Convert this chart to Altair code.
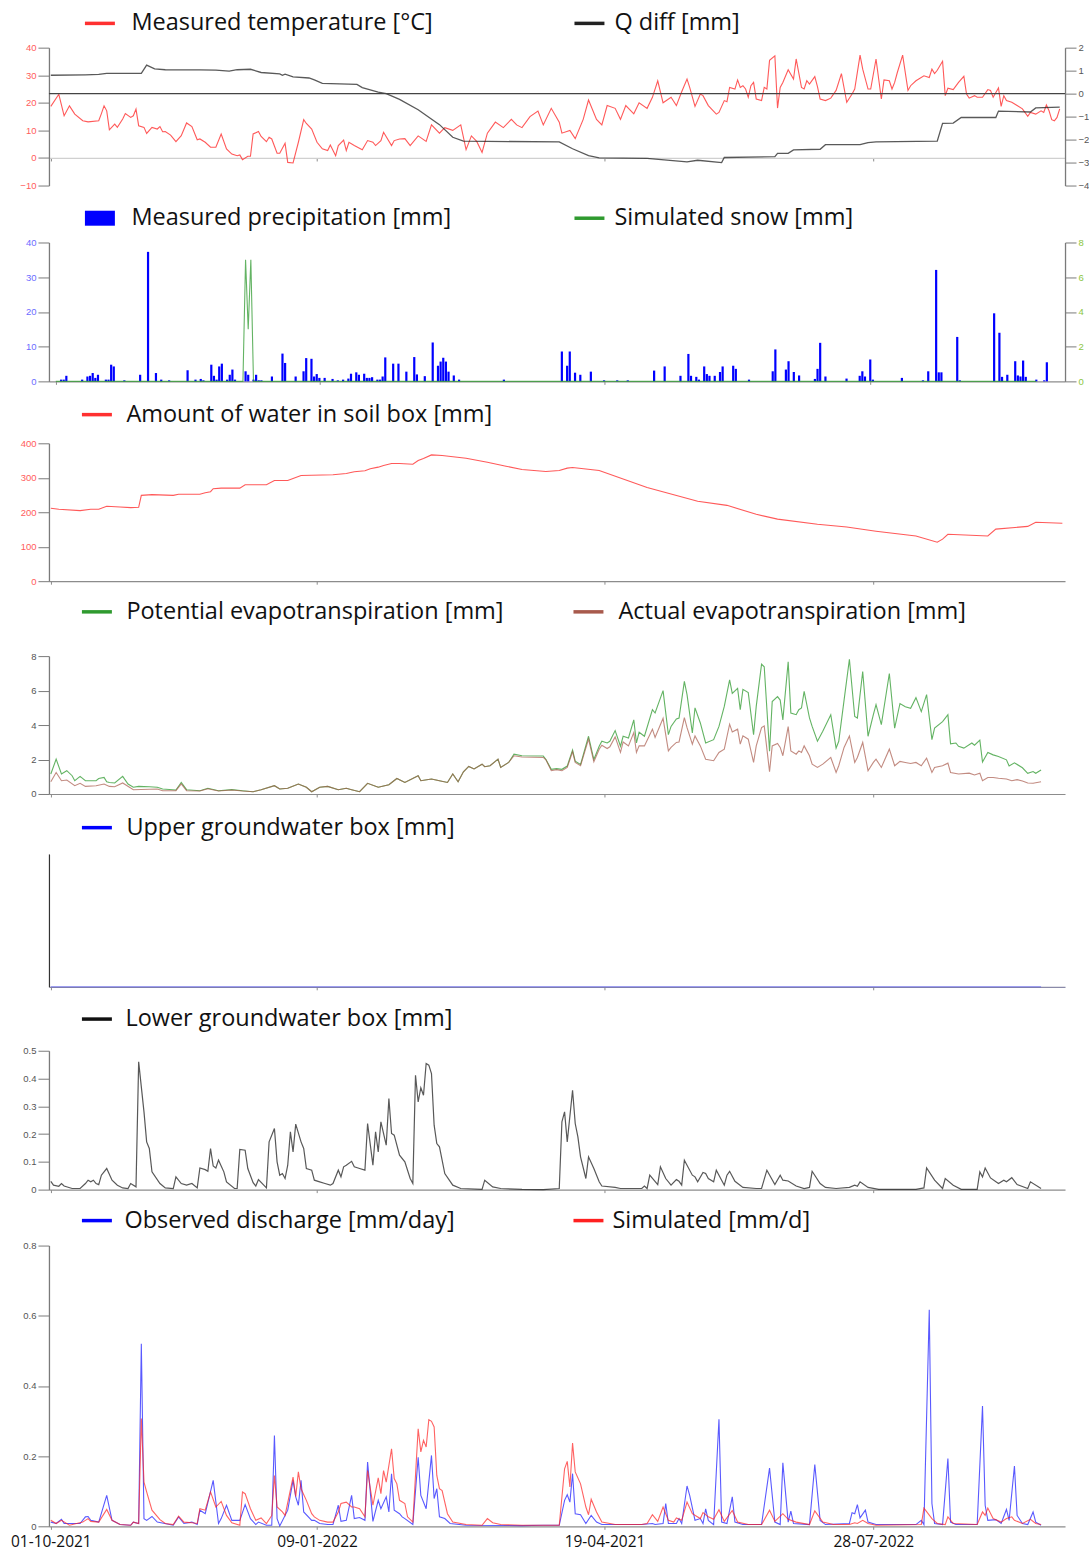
import altair as alt
import pandas as pd

# ---------------------------------------------------------------- data
# x is the day index counted from 01-10-2021
tick_days = [0, 100, 208, 309]
tick_labels = ["01-10-2021", "09-01-2022", "19-04-2021", "28-07-2022"]

temp_days = [0, 3, 5, 7, 9, 12, 14, 18, 19, 20, 21, 22, 24, 25, 27, 28, 30, 31, 32, 33, 35, 36, 38, 40, 41, 42, 43, 45, 47, 49,
             51, 53, 55, 56, 58, 60, 62, 64, 66, 68, 70, 71, 72, 74, 75, 76, 78, 79, 81, 82, 83, 85, 86, 88, 89, 91, 93, 95, 96, 98,
             100, 102, 104, 105, 107, 108, 110, 111, 112, 114, 117, 119, 121, 122, 124, 125, 128, 129, 131,
             133, 135, 138, 141, 143, 146, 148, 151, 154, 156, 158, 160, 162, 164, 167, 170, 173, 175, 177, 180, 183, 185, 188,
             191, 192, 195, 197, 200, 202, 205, 207, 209, 212, 214, 216, 219, 221, 224, 226, 228, 230, 233, 235, 237,
             239, 240, 242, 244, 245, 247, 250, 251, 253, 254, 255, 257, 258, 259, 260, 261, 262, 263, 264, 265, 267, 268, 269,
             270, 272, 273, 274, 275, 277, 279, 280, 282, 283, 284, 285, 287, 288, 289, 291, 293, 295, 297, 299, 301, 302, 304,
             305, 307, 308, 310, 312, 313, 315, 316, 317, 318, 320, 322, 323, 325, 328, 330, 331, 332, 333, 335, 336, 337, 339,
             341, 343, 344, 345, 347, 348, 350, 352, 353, 354, 356, 357, 358, 359, 361, 363, 365, 367, 368, 370, 372, 373, 374,
             375, 376, 377, 378, 379]
temp_vals = [18.7, 23.1, 15.3, 18.9, 15.9, 13.5, 13.1, 13.5, 16.1, 18.9, 17.1, 10.2, 12.3, 11.1, 14.1, 16.1, 14.7, 15.3, 17.7, 11.7,
             11.1, 8.9, 11.1, 10.5, 11.4, 9.5, 9.6, 8.3, 5.9, 8.1, 12.7, 11.4, 6.6, 6.9, 5.7, 3.9, 3.9, 8.7, 3.3, 1.4, 0.8, 1.1,
             -0.6, 0.6, 0.6, 8.7, 9.6, 7.8, 5.9, 7.5, 6.9, 1.7, 1.7, 5.3, -1.6, -1.8, 5.7, 13.9, 12.5, 10.5, 5.7, 3.3, 2.7, 4.7,
             0.8, 4.5, 6.5, 2.7, 5.7, 4.5, 3.0, 6.3, 5.7, 4.5, 6.3, 9.3, 4.5, 6.3, 6.9,
             7, 4.5, 8, 6, 12, 9, 11, 10, 12, 3, 8, 6, 2, 9, 13, 11, 14, 12, 11, 15, 17, 12, 18,
             13, 9, 10, 7, 14, 21, 14, 12, 19, 18, 14, 19, 16, 20, 18, 22, 28, 20, 22, 19, 24,
             28.6, 25.6, 18.7, 23.2, 22.6, 19, 15.9, 16.5, 20.8, 20.4, 25.6, 25, 28.3, 25.6, 26.2, 25, 22, 26.2, 27.4, 21.4,
             20.8, 25.6, 25, 35.4, 37, 18.1, 25.6, 27.4, 32, 28.6, 35.9, 25.6, 25, 28, 26.8, 29.5, 25.9, 21.4, 20.8, 21.7, 24.5,
             30.6, 20.2, 23.2, 25, 37.3, 32.2, 25, 25, 35.9, 21.4, 28.3, 28, 25, 27.4, 31, 37.3, 24.5, 26.2, 28, 29.8, 29.2,
             32.2, 30.6, 31.8, 35.1, 22.6, 25.3, 24.8, 27.4, 29.6, 23.2, 21.7, 22.6, 22, 22, 24.8, 24.5, 22, 25.4, 18.7, 22.6,
             20.8, 20.2, 19, 17.8, 15.1, 16.5, 15.9, 17.1, 16.5, 19.2, 17.1, 13.9, 13.5, 14.7, 17.8]

qdiff_days = [0, 13, 18, 21, 34, 36, 39, 43, 56, 62, 67, 70, 75, 79, 86, 87, 88, 91, 97, 99, 102, 115, 117, 123, 126, 131,
              138, 146, 151, 155, 191, 196, 202, 206, 224, 239, 243, 252, 253, 272, 273, 277, 279, 289, 291, 304, 307, 310,
              333, 335, 339, 342, 355, 356, 368, 370, 379]
qdiff_vals = [0.80, 0.82, 0.84, 0.88, 0.88, 1.24, 1.08, 1.04, 1.03, 1.02, 0.98, 1.04, 1.06, 0.92, 0.86, 0.80, 0.85, 0.73, 0.68,
              0.60, 0.45, 0.40, 0.26, 0.07, 0.0, -0.25, -0.7, -1.35, -1.9, -2.07, -2.1, -2.4, -2.7, -2.8, -2.82, -2.97, -2.9,
              -3.0, -2.78, -2.74, -2.6, -2.6, -2.45, -2.42, -2.22, -2.22, -2.13, -2.1, -2.07, -1.29, -1.28, -1.04, -1.04,
              -0.76, -0.8, -0.62, -0.59]

precip_days = [2, 3, 4, 10, 12, 13, 14, 15, 16, 19, 20, 21, 22, 26, 32, 35, 38, 40, 43, 50, 53, 55, 56, 59, 60, 61, 62, 63, 65,
               66, 67, 68, 72, 73, 75, 76, 77, 78, 82, 86, 87, 91, 94, 95, 97, 98, 99, 100, 102, 105, 107, 109, 111, 112, 114,
               115, 117, 118, 119, 120, 122, 123, 124, 125, 128, 130,
               133, 136, 137, 140, 143, 145, 146, 147, 148, 149, 151, 153, 170, 192, 194, 195, 197, 199, 203, 208, 213, 217,
               227, 231, 237,
               240, 241, 243, 244, 246, 247, 248, 250, 252, 253, 257, 258, 263, 272, 273, 277, 278, 280, 282, 288, 289, 290,
               292, 300, 305, 306, 307, 309, 310, 321, 329, 331, 334, 335, 336, 342, 343, 356, 358, 359, 361, 364, 365, 366,
               367, 368, 372, 375, 376]
precip_vals = [0.5, 0.5, 1.6, 0.5, 1.4, 1.6, 2.4, 1.0, 1.9, 0.5, 0.5, 4.8, 4.3, 0.3, 1.9, 37.3, 2.4, 0.5, 0.3, 3.2, 0.5, 0.7,
               0.3, 4.8, 1.6, 0.5, 4.3, 5.1, 0.5, 1.9, 3.4, 0.5, 2.9, 1.9, 0.5, 1.9, 0.3, 0.3, 1.4, 8.0, 5.3, 1.4, 2.9, 6.7,
               6.5, 1.4, 2.1, 1.0, 1.0, 0.7, 0.3, 0.5, 0.8, 2.2, 2.6, 1.9, 2.2, 1.0, 1.0, 1.2, 0.5, 0.5, 1.4, 6.9, 5.1, 5.1,
               2.8, 7.0, 2.0, 1.5, 11.2, 4.5, 5.7, 6.8, 5.7, 2.8, 1.7, 0.5, 0.5, 8.6, 4.5, 8.6, 2.5, 1.9, 2.8, 0.3, 0.3, 0.3,
               3.1, 4.3, 1.6,
               7.9, 1.6, 1.3, 0.5, 4.3, 2.1, 1.6, 1.6, 2.7, 4.3, 4.5, 3.6, 0.5, 2.9, 9.2, 3.4, 5.8, 2.7, 1.7, 0.7, 3.6, 11.1,
               1.4, 0.8, 1.6, 2.9, 1.4, 6.3, 0.5, 1.0, 0.3, 2.9, 32.1, 2.6, 2.6, 12.8, 0.3, 19.6, 14.0, 1.3, 1.9, 5.8, 1.7,
               1.4, 6.0, 1.3, 0.5, 0.3, 5.5]

snow_days = [0, 71, 72, 73, 74, 75, 372]
snow_vals = [0, 0, 7.0, 3.0, 7.0, 0, 0]

soil_days = [0, 3, 11, 15, 18, 21, 26, 30, 33, 34, 38, 46, 48, 56, 58, 60, 61, 64, 71, 73, 81, 84, 89, 91, 94, 106, 111, 114,
             118, 120, 123, 125, 128, 131, 136, 138, 140, 143, 147, 156, 164, 171, 177, 186, 191, 194, 196, 206, 224, 243,
             254, 265, 273, 288, 299, 310, 325, 333, 335, 337, 352, 355, 367, 370, 380]
soil_vals = [211.5, 208.7, 204.8, 208.7, 208.7, 217.3, 215.4, 213.5, 214.4, 249, 251, 249, 252, 252, 256.7, 259.6, 268.3, 270,
             270, 279.8, 279.8, 292.3, 292.3, 298, 306.7, 308.6, 312.5, 317.3, 320.2, 326, 330.8, 335.6, 341.3, 341.3, 339.4,
             350, 355.8, 366.3, 364.4, 356.7, 345.2, 333.6, 324, 318, 321, 328, 330, 321, 272, 232, 220, 194, 180, 165, 157,
             145, 131, 113, 122, 136, 131, 151, 159, 171, 168]

pet_days = [0, 2, 4, 6, 8, 9, 11, 13, 17, 18, 20, 21, 22, 24, 27, 29, 31, 33, 37, 40, 42, 47, 49, 51, 56, 59, 63, 68, 72, 76,
            79, 84, 86, 89, 93, 96, 98, 101, 104, 108, 111, 113, 116, 119, 123, 127, 130, 133, 138, 139, 143, 146, 149, 151,
            153, 155, 157, 159, 162, 163, 165, 168, 169, 172, 174, 177,
            185, 186, 188, 190, 192, 194, 196, 197, 199, 202, 204, 206, 207, 209, 210, 212, 214, 215, 217, 219, 220, 221, 223,
            226, 227, 230, 232, 233, 235, 236, 238, 239, 241, 242, 244, 246, 249, 251, 253, 255, 256, 258, 259, 260, 262, 264,
            265, 267, 268, 270, 271, 273, 274, 275, 277, 278, 280, 281, 282, 283, 285, 286, 288, 290, 293, 295, 296, 298, 300,
            302, 303, 305, 307, 309, 310, 312, 315, 317, 319, 321, 323, 325, 327, 329, 331, 332, 335, 337, 338, 340, 341, 343,
            346, 347, 349, 350, 352, 354, 356, 359, 360, 362, 365, 367, 369, 370, 372]
pet_vals = [1.16, 2.02, 1.16, 1.35, 1.06, 0.77, 1.02, 0.77, 0.77, 0.9, 0.96, 0.71, 0.67, 0.64, 1.02, 0.58, 0.39, 0.44, 0.42,
            0.39, 0.29, 0.23, 0.67, 0.25, 0.19, 0.33, 0.19, 0.25, 0.19, 0.13, 0.25, 0.48, 0.29, 0.33, 0.58, 0.39, 0.13, 0.39,
            0.44, 0.25, 0.33, 0.25, 0.13, 0.62, 0.39, 0.54, 0.9, 0.67, 1.06, 0.77, 0.87, 0.77, 0.67, 1.16, 0.71, 1.29, 1.6,
            1.45, 1.73, 1.58, 1.64, 2.02, 1.54, 1.83, 2.31, 2.22,
            2.2, 2.0, 1.43, 1.47, 1.43, 1.62, 2.55, 1.9, 1.71, 3.35, 2.0, 2.77, 3.06, 2.96, 3.06, 3.68, 2.77, 3.35, 3.25, 4.3,
            2.96, 3.58, 3.35, 4.89, 4.7, 6.0, 3.44, 3.92, 4.35, 4.41, 6.53, 5.76, 3.54, 5.0, 4.12, 2.96, 3.15, 3.92, 5.08,
            6.62, 5.84, 6.13, 4.89, 6.07, 5.88, 3.44, 5.08, 7.53, 7.38, 2.48, 5.36, 5.65, 5.45, 4.3, 7.67, 4.7, 4.6, 4.89,
            4.99, 5.95, 4.41, 3.92, 3.06, 3.64, 4.6, 2.66, 3.06, 5.45, 7.82, 4.5, 4.41, 7.11, 3.35, 4.6, 5.18, 4.02, 6.99,
            3.82, 5.25, 5.06, 4.97, 5.59, 4.78, 5.77, 3.15, 3.82, 4.2, 4.6, 2.91, 2.96, 2.77, 2.66, 2.96, 2.83, 3.12, 1.85,
            2.41, 2.27, 2.18, 1.98, 1.62, 1.81, 1.52, 1.2, 1.3, 1.2, 1.39]

aet_days = [0, 2, 4, 6, 9, 11, 13, 17, 20, 22, 24, 27, 31, 40, 42, 47, 49, 51, 56, 59, 63, 68, 72, 76,
            79, 84, 86, 89, 93, 96, 98, 101, 104, 108, 111, 113, 116, 119, 123, 127, 130, 133, 138, 139, 143, 146, 149, 151,
            153, 155, 157, 159, 162, 163, 165, 168, 169, 172, 174, 177,
            185, 186, 188, 190, 192, 194, 196, 197, 199, 202, 204, 206, 207, 209, 210, 212, 214, 215, 217, 219, 220, 221, 223,
            226, 227, 230, 232, 233, 235, 236, 238, 239, 241, 242, 244, 246, 249, 251, 253, 255, 256, 258, 259, 260, 262, 264,
            265, 267, 268, 270, 271, 273, 274, 275, 277, 278, 280, 281, 282, 283, 285, 286, 288, 290, 293, 295, 296, 298, 300,
            302, 303, 305, 307, 309, 310, 312, 315, 317, 319, 321, 323, 325, 327, 329, 331, 332, 335, 337, 338, 341, 345, 347,
            349, 350, 352, 354, 356, 359, 361, 363, 365, 367, 369, 372]
aet_vals = [0.71, 1.25, 0.77, 0.81, 0.48, 0.62, 0.44, 0.48, 0.58, 0.44, 0.42, 0.64, 0.25, 0.29, 0.19, 0.19, 0.58, 0.19, 0.17,
            0.3, 0.17, 0.23, 0.17, 0.13,
            0.25, 0.48, 0.29, 0.33, 0.58, 0.39, 0.13, 0.39, 0.44, 0.25, 0.33, 0.25, 0.13, 0.62, 0.39, 0.54, 0.9, 0.67, 1.06,
            0.77, 0.87, 0.77, 0.67, 1.16, 0.71, 1.29, 1.6, 1.45, 1.73, 1.58, 1.64, 2.02, 1.54, 1.83, 2.22, 2.15,
            2.12, 1.98, 1.35, 1.41, 1.35, 1.54, 2.45, 1.83, 1.64, 3.18, 1.87, 2.6, 2.83, 2.64, 2.74, 3.31, 2.41, 3.02, 2.79,
            3.56, 2.41, 2.79, 2.79, 3.76, 3.28, 4.39, 2.5, 2.7, 2.99, 3.02, 4.43, 3.85, 2.89, 3.37, 2.79, 2.02, 1.93, 2.41,
            2.6, 4.05, 3.6, 3.76, 2.89, 3.37, 3.18, 1.83, 2.79, 3.85, 3.95, 1.29, 2.79, 2.93, 2.7, 2.22, 3.91, 2.5, 2.31, 2.5,
            2.41, 2.79, 2.22, 1.73, 1.54, 1.73, 2.12, 1.25, 1.64, 2.7, 3.37, 1.83, 2.12, 2.99, 1.35, 1.83, 2.02, 1.54, 2.6,
            1.64, 1.89, 1.83, 1.77, 1.83, 1.64, 2.08, 1.25, 1.54, 1.64, 1.79, 1.25, 1.16, 1.21, 1.1, 1.2, 0.77, 0.96, 0.96,
            0.91, 0.87, 0.77, 0.83, 0.75, 0.64, 0.62, 0.71]

upper_days = [0, 372]
upper_vals = [0.0, 0.0]

lower_days = [0, 1, 3, 4, 5, 8, 11, 13, 14, 15, 16, 17, 18, 19, 21, 23, 25, 27, 29, 30, 32, 33, 35, 36, 37, 38, 41, 43, 46,
              47, 49, 51, 53, 55, 56, 58, 59, 60, 61, 62, 63, 65, 66, 69, 70, 71, 73, 74, 76, 77, 78, 80, 81, 82, 84, 85, 86,
              87, 88, 89, 90, 91, 92, 94, 95, 96, 98, 99, 101, 103, 105, 106, 108, 109, 110, 111, 113, 114, 116, 118, 119,
              121, 122, 123, 124, 126, 127, 128, 129, 131, 133, 135, 136, 137, 138, 139, 140, 141, 142, 143, 144, 145, 146,
              148, 151, 154, 162, 163, 166, 169, 177, 185, 191, 192, 193, 194, 196, 197, 198, 199, 201, 202, 204, 206, 207,
              212, 214, 222, 223, 224, 225, 228, 229, 231, 233, 235, 236, 237, 238, 241, 242, 243, 245, 246, 247, 249, 250,
              252, 253, 254, 255, 257, 260, 265, 267, 269, 272, 274, 275, 277, 280, 283, 285, 286, 289, 291, 295, 300, 302,
              303, 304, 307, 311, 325, 328, 329, 332, 335, 336, 339, 342, 348, 349, 350, 351, 353, 356, 358, 359, 361, 363,
              367, 368, 372]
lower_vals = [0.030, 0.016, 0.012, 0.022, 0.013, 0.004, 0.004, 0.022, 0.034, 0.028, 0.034, 0.022, 0.018, 0.052, 0.076, 0.034,
              0.016, 0.006, 0.004, 0.022, 0.010, 0.460, 0.280, 0.172, 0.148, 0.064, 0.022, 0.006, 0.004, 0.046, 0.022, 0.016,
              0.022, 0.006, 0.078, 0.072, 0.066, 0.148, 0.085, 0.078, 0.106, 0.064, 0.028, 0.004, 0.004, 0.145, 0.142, 0.076,
              0.025, 0.013, 0.036, 0.016, 0.006, 0.172, 0.220, 0.100, 0.052, 0.058, 0.040, 0.088, 0.208, 0.136, 0.236, 0.172,
              0.148, 0.076, 0.070, 0.034, 0.028, 0.022, 0.016, 0.022, 0.070, 0.046, 0.082, 0.088, 0.102, 0.082, 0.076, 0.070,
              0.238, 0.088, 0.208, 0.136, 0.244, 0.160, 0.328, 0.202, 0.196, 0.124, 0.100, 0.040, 0.022, 0.412, 0.316, 0.367,
              0.340, 0.454, 0.448, 0.418, 0.232, 0.166, 0.154, 0.058, 0.016, 0.004, 0.001, 0.034, 0.010, 0.004, 0.001, 0.0,
              0.004, 0.244, 0.280, 0.172, 0.358, 0.238, 0.190, 0.118, 0.040, 0.118, 0.076, 0.028, 0.013, 0.008, 0.004, 0.004,
              0.013, 0.004, 0.052, 0.018, 0.082, 0.040, 0.016, 0.036, 0.030, 0.016, 0.106, 0.052, 0.046, 0.028, 0.062, 0.058,
              0.040, 0.028, 0.070, 0.034, 0.016, 0.052, 0.066, 0.030, 0.008, 0.004, 0.004, 0.070, 0.018, 0.052, 0.034, 0.031,
              0.013, 0.004, 0.008, 0.066, 0.022, 0.008, 0.004, 0.008, 0.016, 0.012, 0.028, 0.008, 0.001, 0.001, 0.006, 0.078,
              0.034, 0.004, 0.040, 0.016, 0.001, 0.001, 0.064, 0.046, 0.078, 0.042, 0.022, 0.034, 0.028, 0.043, 0.018, 0.004,
              0.028, 0.004]

obs_days = [0, 2, 4, 5, 11, 13, 14, 15, 18, 21, 23, 26, 30, 31, 33, 34, 35, 36, 38, 40, 46, 48, 50, 53, 55, 56, 58, 61, 63,
            64, 66, 68, 71, 73, 75, 77, 78, 81, 83, 84, 85, 86, 89, 91, 92, 93, 94, 95, 98, 99, 101, 104, 106, 108, 109, 111,
            113, 114, 116, 118, 119, 121, 123, 124, 126, 127, 128, 129, 131, 132, 133, 136, 138, 139, 141, 143, 144, 145, 146,
            148, 150, 156, 177, 185, 191, 193, 194, 195, 196, 197, 199, 201, 203, 205, 207, 222, 226, 227, 230, 231, 232, 235,
            236, 237, 239, 240, 242, 244, 245, 246, 247, 249, 251, 252, 254, 256, 257, 260, 267, 270, 272, 274, 275, 277, 278,
            279, 285, 287, 289, 291, 300, 301, 302, 303, 304, 306, 307, 310, 325, 327, 328, 330, 331, 332, 335, 337, 338, 340,
            348, 350, 351, 352, 355, 357, 359, 360, 362, 363, 365, 367, 369, 370, 372]
obs_vals = [0.012, 0.008, 0.020, 0.008, 0.008, 0.027, 0.028, 0.017, 0.012, 0.088, 0.017, 0.005, 0.003, 0.012, 0.008, 0.520,
            0.022, 0.017, 0.028, 0.012, 0.003, 0.027, 0.008, 0.012, 0.005, 0.046, 0.036, 0.131, 0.008, 0.022, 0.060, 0.017,
            0.017, 0.062, 0.022, 0.005, 0.012, 0.003, 0.003, 0.259, 0.022, 0.001, 0.046, 0.131, 0.084, 0.060, 0.131, 0.041,
            0.017, 0.017, 0.008, 0.005, 0.005, 0.060, 0.014, 0.017, 0.088, 0.022, 0.025, 0.017, 0.183, 0.014, 0.074, 0.050,
            0.084, 0.041, 0.150, 0.046, 0.036, 0.027, 0.022, 0.005, 0.197, 0.088, 0.050, 0.202, 0.079, 0.107, 0.027, 0.022,
            0.008, 0.003, 0.002, 0.003, 0.003, 0.074, 0.090, 0.069, 0.150, 0.036, 0.033, 0.008, 0.031, 0.012, 0.005, 0.005,
            0.008, 0.005, 0.008, 0.065, 0.008, 0.008, 0.022, 0.008, 0.115, 0.088, 0.017, 0.022, 0.008, 0.050, 0.017, 0.005,
            0.305, 0.012, 0.008, 0.084, 0.012, 0.005, 0.005, 0.166, 0.012, 0.005, 0.181, 0.012, 0.043, 0.008, 0.005, 0.176,
            0.017, 0.005, 0.008, 0.039, 0.036, 0.062, 0.024, 0.046, 0.012, 0.005, 0.005, 0.017, 0.005, 0.617, 0.065, 0.008,
            0.005, 0.193, 0.012, 0.005, 0.005, 0.343, 0.060, 0.017, 0.019, 0.008, 0.048, 0.017, 0.172, 0.031, 0.008, 0.005,
            0.041, 0.012, 0.003]

sim_days = [0, 2, 4, 7, 12, 14, 15, 18, 21, 23, 26, 30, 31, 33, 34, 35, 36, 38, 41, 43, 46, 48, 50, 53, 55, 56, 58, 60, 62, 64,
            66, 68, 71, 72, 73, 75, 77, 79, 81, 83, 84, 85, 87, 88, 91, 92, 93, 94, 96, 98, 99, 101, 104, 106, 108, 109, 111,
            113, 114, 116, 118, 119, 121, 123, 124, 125, 126, 128, 129, 130, 131, 133, 134, 136, 138, 139, 140, 141, 142,
            143, 144, 145, 146, 147, 149, 151, 156, 162, 164, 166, 169, 177, 185, 191, 193, 194, 195, 196, 197, 199, 201, 202,
            203, 205, 207, 212, 222, 224, 226, 228, 230, 232, 234, 235, 237, 239, 241, 244, 245, 247, 249, 251, 253, 256, 258,
            262, 267, 270, 272, 275, 277, 280, 285, 287, 290, 294, 300, 302, 303, 305, 307, 310, 327, 328, 331, 333, 336, 337,
            339, 348, 350, 351, 352, 354, 357, 359, 361, 362, 365, 368, 370, 372]
sim_vals = [0.017, 0.008, 0.017, 0.003, 0.012, 0.022, 0.014, 0.012, 0.048, 0.017, 0.005, 0.003, 0.012, 0.008, 0.307, 0.126,
            0.098, 0.046, 0.019, 0.008, 0.005, 0.029, 0.012, 0.010, 0.008, 0.050, 0.046, 0.098, 0.055, 0.071, 0.031, 0.010,
            0.003, 0.098, 0.093, 0.050, 0.017, 0.024, 0.008, 0.031, 0.145, 0.055, 0.041, 0.031, 0.140, 0.085, 0.155, 0.107,
            0.074, 0.036, 0.027, 0.017, 0.012, 0.012, 0.041, 0.065, 0.069, 0.055, 0.055, 0.050, 0.027, 0.159, 0.060, 0.138,
            0.093, 0.159, 0.126, 0.221, 0.136, 0.121, 0.074, 0.065, 0.027, 0.012, 0.278, 0.212, 0.245, 0.226, 0.304, 0.299,
            0.283, 0.145, 0.107, 0.102, 0.036, 0.012, 0.005, 0.003, 0.022, 0.010, 0.005, 0.003, 0.003, 0.003, 0.164, 0.185,
            0.112, 0.237, 0.155, 0.121, 0.055, 0.033, 0.077, 0.041, 0.012, 0.005, 0.005, 0.008, 0.033, 0.014, 0.055, 0.017,
            0.012, 0.024, 0.017, 0.069, 0.036, 0.022, 0.039, 0.027, 0.020, 0.047, 0.014, 0.045, 0.012, 0.005, 0.005, 0.046,
            0.014, 0.036, 0.020, 0.012, 0.005, 0.044, 0.012, 0.005, 0.005, 0.010, 0.008, 0.017, 0.008, 0.003, 0.005, 0.052,
            0.022, 0.008, 0.005, 0.027, 0.008, 0.005, 0.041, 0.031, 0.052, 0.022, 0.012, 0.022, 0.027, 0.017, 0.008, 0.020,
            0.008, 0.005]

# ---------------------------------------------------------------- styling
W = 1017
X_DOMAIN = [-0.7, 381]
FONT = "Open Sans"
AXFONT = "Liberation Sans"
RECT = "M-1,-0.5H1V0.5H-1Z"

label_expr = " : ".join(f"datum.value == {d} ? '{l}'" for d, l in zip(tick_days, tick_labels)) + " : ''"


def frame(days, vals, name):
    return pd.DataFrame({"day": days, "value": vals, "series": name})


def x_enc(labels=False, offset=0, domain_color="#8c8c8c"):
    return alt.X(
        "day:Q",
        scale=alt.Scale(domain=X_DOMAIN, nice=False, zero=False),
        axis=alt.Axis(values=tick_days, labels=labels, labelExpr=label_expr, labelFont=FONT,
                      labelFontSize=15.5, labelColor="#111", labelPadding=5.5, labelOverlap=False,
                      labelFlush=False, tickSize=3, tickColor="#8c8c8c", domainColor=domain_color,
                      domainWidth=1.2, grid=False, title=None, offset=offset),
    )


def y_enc(domain, rng, values, color="#555", orient="left", show=True):
    if show:
        axis = alt.Axis(values=values, orient=orient, format=".2~f", labelFont=AXFONT, labelFontSize=9.5,
                        labelColor=color, tickSize=11, tickColor="#7a7a7a", domainColor="#7a7a7a",
                        domainWidth=1.3, labelPadding=2, grid=False, title=None)
    else:
        axis = alt.Axis(labels=False, ticks=False, domainColor="#333", domainWidth=1.2, grid=False,
                        title=None, orient=orient)
    return alt.Y("value:Q", scale=alt.Scale(domain=domain, range=rng, nice=False, zero=False), axis=axis)


def legend(x, yc, offset=13, symbol="stroke"):
    return alt.Legend(title=None, orient="none", legendX=x, legendY=yc - 15, symbolType=symbol,
                      symbolSize=900, symbolStrokeWidth=3.5, symbolOpacity=1, labelFont=FONT,
                      labelFontSize=23.5, labelColor="#111", labelOffset=offset, labelLimit=800, padding=0)


def line(df, channel, color, x, y, leg, width=1.1, opacity=0.8):
    name = df["series"].iloc[0]
    scale = alt.Scale(domain=[name], range=[color])
    enc = alt.Stroke("series:N", scale=scale, legend=leg) if channel == "stroke" else \
        alt.Color("series:N", scale=scale, legend=leg)
    return alt.Chart(df).mark_line(strokeWidth=width, opacity=opacity).encode(x=x, y=y, **{channel: enc})


# ---------------------------------------------------------------- panel 1: temperature and Q diff
H1 = 138
x1 = x_enc(offset=-27.6, domain_color="#d0d0d0")
t_line = line(frame(temp_days, temp_vals, "Measured temperature [°C]"), "stroke", "#ff3030", x1,
              y_enc([-10, 40], [H1, 0], [-10, 0, 10, 20, 30, 40], color="#ff5c5c"), legend(34, -26.3, 14.5))
q_y = y_enc([-4, 2], [H1, 0], [-4, -3, -2, -1, 0, 1, 2], orient="right")
q_line = line(frame(qdiff_days, qdiff_vals, "Q diff [mm]"), "color", "#222222", x1, q_y,
              legend(524, -26.3, 8), width=1.3, opacity=0.75)
q_zero = alt.Chart(pd.DataFrame({"day": [0], "value": [0.0]})).mark_rule(color="#444", strokeWidth=1.3).encode(y=q_y)
p1 = alt.layer(t_line, alt.layer(q_line, q_zero)).resolve_scale(y="independent").properties(width=W, height=H1)

# ---------------------------------------------------------------- panel 2: precipitation and snow
H2 = 196
x2 = x_enc()
pr = frame(precip_days, precip_vals, "Measured precipitation [mm]")
bars = alt.Chart(pr).mark_bar(size=2.2).encode(
    x=x2, y=y_enc([0, 40], [H2, 57], [0, 10, 20, 30, 40], color="#6b6bff"),
    fill=alt.Fill("series:N", scale=alt.Scale(domain=["Measured precipitation [mm]"], range=["#0000ff"]),
                  legend=legend(34, 30.7, 14.5, symbol=RECT)))
snow = line(frame(snow_days, snow_vals, "Simulated snow [mm]"), "stroke", "#2f9a2f", x2,
            y_enc([0, 8], [H2, 57], [0, 2, 4, 6, 8], color="#8cc63f", orient="right"), legend(524, 30.7, 8),
            opacity=0.75)
p2 = alt.layer(bars, snow).resolve_scale(y="independent").properties(width=W, height=H2)

# ---------------------------------------------------------------- panel 3: soil box
H3 = 200
p3 = line(frame(soil_days, soil_vals, "Amount of water in soil box [mm]"), "stroke", "#ff3030", x_enc(),
          y_enc([0, 400], [H3, 62], [0, 100, 200, 300, 400], color="#ff5c5c"), legend(31, 31.3, 12.5)
          ).properties(width=W, height=H3)

# ---------------------------------------------------------------- panel 4: evapotranspiration
H4 = 213
x4 = x_enc()
y4 = y_enc([0, 8], [H4, 75], [0, 2, 4, 6, 8])
pet = line(frame(pet_days, pet_vals, "Potential evapotranspiration [mm]"), "stroke", "#2f9a2f", x4, y4,
           legend(31, 28.7, 12.5), opacity=0.75)
aet = line(frame(aet_days, aet_vals, "Actual evapotranspiration [mm]"), "color", "#a85a4c", x4, y4,
           legend(523, 28.7, 13), opacity=0.7)
p4 = alt.layer(pet, aet).properties(width=W, height=H4)

# ---------------------------------------------------------------- panel 5: upper groundwater box
H5 = 193
p5 = line(frame(upper_days, upper_vals, "Upper groundwater box [mm]"), "stroke", "#0000ff", x_enc(domain_color="#8a8aa8"),
          y_enc([0, 1], [H5, 60], [], show=False), legend(31, 31.7, 12.5), opacity=0.4
          ).properties(width=W, height=H5)

# ---------------------------------------------------------------- panel 6: lower groundwater box
H6 = 203
p6 = line(frame(lower_days, lower_vals, "Lower groundwater box [mm]"), "stroke", "#111111", x_enc(),
          y_enc([0, 0.5], [H6, 64], [0, 0.1, 0.2, 0.3, 0.4, 0.5]), legend(31, 30.3, 11.5), width=1.2, opacity=0.7
          ).properties(width=W, height=H6)

# ---------------------------------------------------------------- panel 7: discharge
H7 = 337
x7 = x_enc(labels=True)
y7 = y_enc([0, 0.8], [H7, 56], [0, 0.2, 0.4, 0.6, 0.8])
obs = line(frame(obs_days, obs_vals, "Observed discharge [mm/day]"), "stroke", "#0000ff", x7, y7,
           legend(31, 29, 10.5), opacity=0.65)
sim = line(frame(sim_days, sim_vals, "Simulated [mm/d]"), "color", "#ff2020", x7, y7,
           legend(523, 29, 7), opacity=0.7)
p7 = alt.layer(obs, sim).properties(width=W, height=H7)

chart = (
    alt.vconcat(p1, p2, p3, p4, p5, p6, p7, spacing=0, bounds="flush")
    .resolve_scale(x="independent", y="independent", stroke="independent", color="independent", fill="independent")
    .resolve_axis(x="independent", y="independent")
    .resolve_legend(stroke="independent", color="independent", fill="independent")
    .properties(padding={"left": 10, "top": 5, "right": 0, "bottom": 0}, background="white")
    .configure_view(stroke=None)
)

chart.save("out.html", embed_options={"renderer": "svg", "actions": False})
